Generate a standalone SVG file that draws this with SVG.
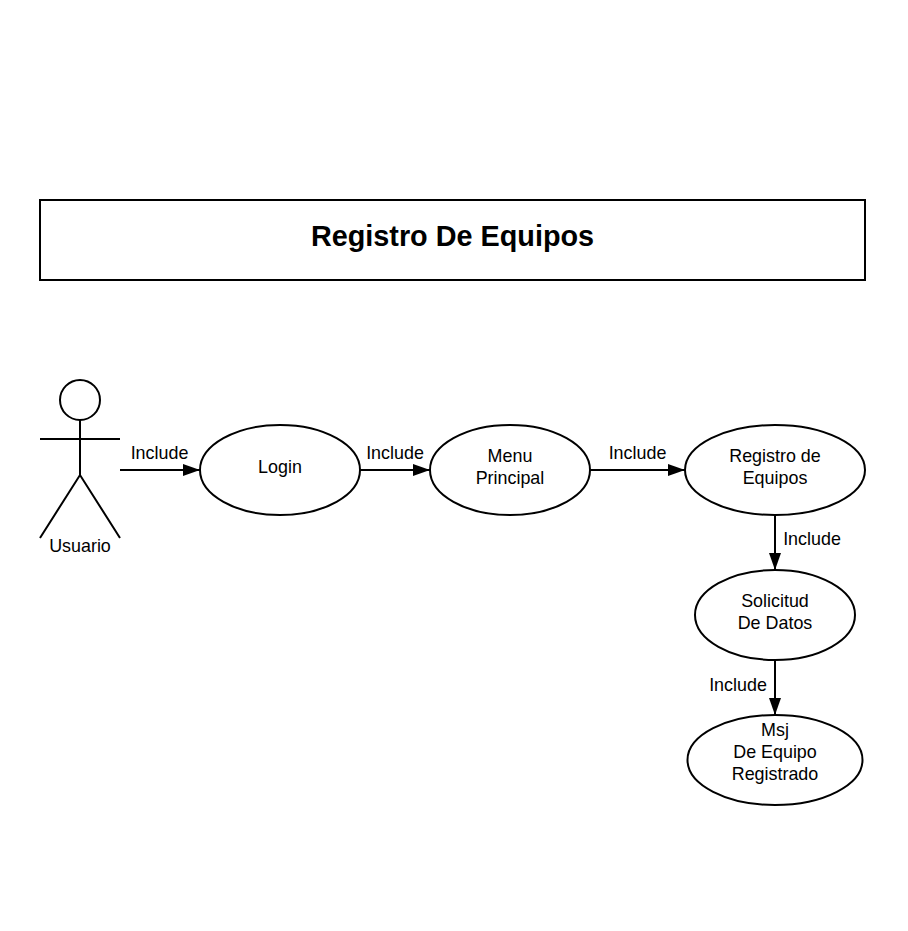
<svg xmlns="http://www.w3.org/2000/svg" width="908" height="931" viewBox="0 0 908 931">
<style>
.s{fill:#fff;stroke:#000;stroke-width:2}
.l{fill:none;stroke:#000;stroke-width:2}
text{font-family:"Liberation Sans",Arial,sans-serif;font-size:17.9px;fill:#000;text-anchor:middle}
.t{font-size:28.8px;font-weight:bold}
</style>
<defs><marker id="a" markerUnits="userSpaceOnUse" markerWidth="18" markerHeight="14" refX="17" refY="6" orient="auto"><path d="M0 0L17 6L0 12Z" fill="#000"/></marker></defs>
<rect width="908" height="931" fill="#fff"/>
<g id="title"><rect class="s" x="40" y="200" width="825" height="80"/><text class="t" x="452.500" y="246">Registro De Equipos</text></g>
<g id="usuario"><circle class="s" cx="80" cy="400" r="20"/><path class="l" d="M80 420V475M40 439H120M40 538L80 475L120 538"/><text x="80" y="552">Usuario</text></g>
<g id="connectors">
<path class="l" marker-end="url(#a)" d="M120 470H200"/>
<path class="l" marker-end="url(#a)" d="M360 470H430"/>
<path class="l" marker-end="url(#a)" d="M590 470H685"/>
<path class="l" marker-end="url(#a)" d="M775 515V570"/>
<path class="l" marker-end="url(#a)" d="M775 660V715"/>
<text x="159.500" y="458.500">Include</text>
<text x="395" y="458.500">Include</text>
<text x="637.500" y="458.500">Include</text>
<text x="812" y="545">Include</text>
<text x="738" y="690.500">Include</text>
</g>
<g id="login"><ellipse class="s" cx="280" cy="470" rx="80" ry="45"/><text x="280" y="473">Login</text></g>
<g id="menu"><ellipse class="s" cx="510" cy="470" rx="80" ry="45"/><text x="510" y="462">Menu</text><text x="510" y="483.500">Principal</text></g>
<g id="registro"><ellipse class="s" cx="775" cy="470" rx="90" ry="45"/><text x="775" y="462">Registro de</text><text x="775" y="483.500">Equipos</text></g>
<g id="solicitud"><ellipse class="s" cx="775" cy="615" rx="80" ry="45"/><text x="775" y="607">Solicitud</text><text x="775" y="628.500">De Datos</text></g>
<g id="msj"><ellipse class="s" cx="775" cy="760" rx="87.500" ry="45"/><text x="775" y="736">Msj</text><text x="775" y="758">De Equipo</text><text x="775" y="779.500">Registrado</text></g>
</svg>
